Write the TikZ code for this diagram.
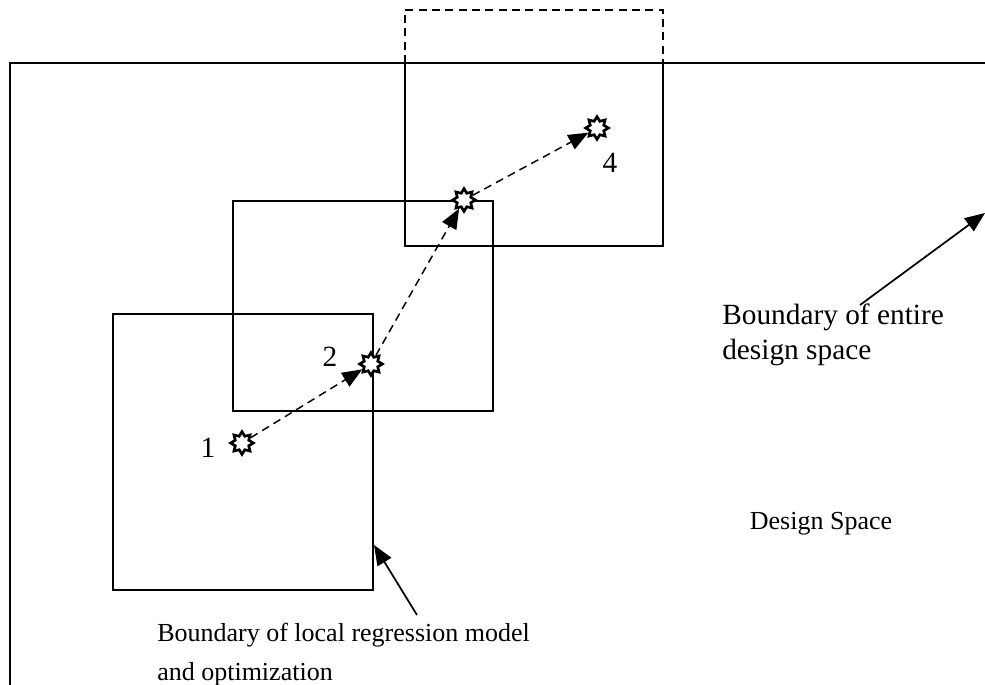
\documentclass[tikz,border=0pt]{standalone}
\usepackage{fontspec}
\setmainfont{Liberation Serif}
\usetikzlibrary{arrows.meta,shapes.geometric,calc}

\begin{document}
\begin{tikzpicture}[x=0.75pt, y=-0.75pt]
%styles
\tikzstyle{region}=[line width=1.3pt]
\tikzstyle{point}=[star, star points=8, star point ratio=1.55, minimum size=17pt, inner sep=0pt, draw, fill=white, line width=2pt]
\tikzstyle{move}=[dash pattern=on 6pt off 4pt, line width=1.1pt, -{Triangle[length=15pt,width=12pt]}]
\tikzstyle{pointer}=[line width=1.3pt, -{Triangle[length=15pt,width=12pt]}]
\tikzstyle{textLine}=[rectangle, text=black, inner sep=0pt, align=left]
\tikzstyle{textNum}=[rectangle, text=black, inner sep=0pt, font=\fontsize{22}{26}\selectfont]

\useasboundingbox (0,0) rectangle (985,685);

%design space
\draw[line width=1.5pt] (10,685) -- (10,63) -- (985,63);

%local regions
\draw[region] (113,314) rectangle (373,590);
\draw[region] (233,201) rectangle (493,411);
\draw[region] (405,63) rectangle (663,246);
\draw[region, dash pattern=on 6pt off 4pt] (405,63) -- (405,10) -- (663,10) -- (663,63);

%optimum points
\node[point] (p1) at (242,443) {};
\node[point] (p2) at (371,364) {};
\node[point] (p3) at (464,200) {};
\node[point] (p4) at (597,128) {};
\node[textNum] (n1) at (208,448) {1};
\node[textNum] (n2) at (330,357) {2};
\node[textNum] (n4) at (610,163) {4};

%moves
\draw[move] (p1) -- (p2);
\draw[move] (p2) -- (p3);
\draw[move] (p3) -- (p4);

%texts
\node[textLine, anchor=north west, font=\fontsize{22}{26}\selectfont] (entire) at (722,304) {Boundary of entire\\design space};
\node[textLine, font=\fontsize{19.5}{24}\selectfont] (dspace) at (821,524) {Design Space};
\node[textLine, anchor=north west, font=\fontsize{19.5}{29}\selectfont] (local) at (157,623) {Boundary of local regression model\\and optimization};

%pointers
\coordinate (entireTail) at (860,305);
\coordinate (entireHead) at (985,213);
\coordinate (localTail) at (417,615);
\coordinate (localHead) at (374,545);
\draw[pointer] (entireTail) -- (entireHead);
\draw[pointer] (localTail) -- (localHead);

\end{tikzpicture}
\end{document}
